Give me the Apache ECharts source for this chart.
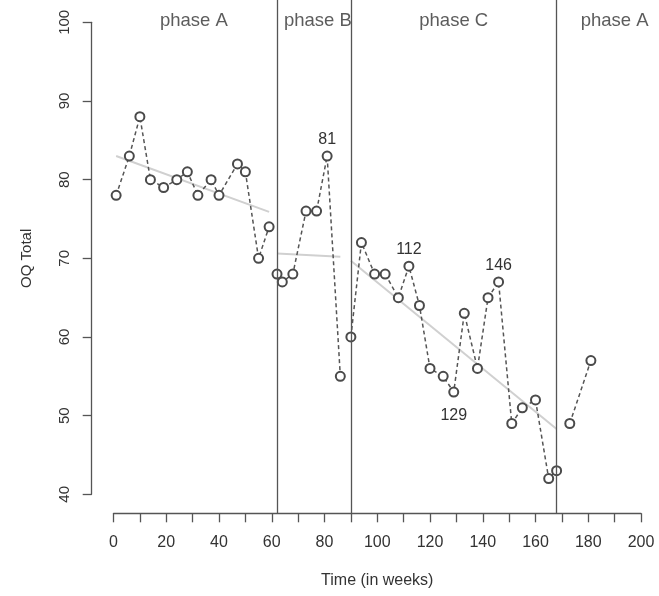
<!DOCTYPE html>
<html>
<head>
<meta charset="utf-8">
<script src="https://cdn.jsdelivr.net/npm/echarts@6/dist/echarts.min.js"></script>
<style>
  html, body { margin: 0; padding: 0; background: #fff; }
  #chart { width: 659px; height: 596px; }
</style>
</head>
<body>
<div id="chart"></div>
<script>
// weeks / OQ totals, one pair of arrays per phase
const weeksA1 = [1, 6, 10, 14, 19, 24, 28, 32, 37, 40, 47, 50, 55, 59];
const oqA1 = [78, 83, 88, 80, 79, 80, 81, 78, 80, 78, 82, 81, 70, 74];
const weeksB = [62, 64, 68, 73, 77, 81, 86];
const oqB = [68, 67, 68, 76, 76, 83, 55];
const weeksC = [90, 94, 99, 103, 108, 112, 116, 120, 125, 129, 133, 138, 142, 146, 151, 155, 160, 165, 168];
const oqC = [60, 72, 68, 68, 65, 69, 64, 56, 55, 53, 63, 56, 65, 67, 49, 51, 52, 42, 43];
const weeksA2 = [173, 181];
const oqA2 = [49, 57];

// trend line per phase: [start, end]
const trendA1 = [[1, 83.0], [59, 75.9]];
const trendB = [[62, 70.6], [86, 70.2]];
const trendC = [[90, 69.7], [168, 48.3]];

const phaseBreaks = [62, 90, 168];
const phaseNames = ["phase A", "phase B", "phase C", "phase A"];
const phaseLabelWeeks = [30.5, 77.5, 129, 190];

// points that carry their week number as a label
const labelledWeeks = [81, 112, 129, 146];
const labelsBelow = [129];

const font = "Liberation Sans, Arial, sans-serif";

function points(weeks, vals) {
  return weeks.map((w, i) => {
    const item = { value: [w, vals[i]] };
    if (labelledWeeks.includes(w)) {
      const below = labelsBelow.includes(w);
      item.label = {
        show: true,
        position: below ? "bottom" : "top",
        distance: below ? 10 : 3,
        formatter: String(w),
      };
    }
    return item;
  });
}

function phaseSeries(weeks, vals) {
  return {
    type: "line",
    xAxisIndex: 0,
    yAxisIndex: 0,
    data: points(weeks, vals),
    symbol: "emptyCircle",
    symbolSize: 9,
    itemStyle: { color: "#4a4a4a", borderColor: "#4a4a4a", borderWidth: 1.2 },
    lineStyle: { color: "#555", width: 1.5, type: [4, 3] },
    label: { color: "#333", fontSize: 16, fontFamily: font },
    z: 3,
  };
}

function trendSeries(seg) {
  return {
    type: "line",
    xAxisIndex: 0,
    yAxisIndex: 0,
    data: seg,
    symbol: "none",
    lineStyle: { color: "#d0d0d0", width: 2 },
    z: 1,
  };
}

const myChart = echarts.init(document.getElementById("chart"));

const axisLine = { show: true, lineStyle: { color: "#555", width: 1.3 } };
const axisTick = { show: true, length: 9, lineStyle: { color: "#555", width: 1.3 } };

const option = {
  animation: false,
  grid: [
    // data area
    { left: 113.5, right: 18, top: 22.3, bottom: 101.7, outerBoundsMode: "none" },
    // phase lines + x axis
    { left: 113.5, right: 18, top: 0, bottom: 82.7, outerBoundsMode: "none" },
    // y axis, detached to the left
    { left: 91.7, right: 18, top: 22.3, bottom: 101.7, outerBoundsMode: "none" },
  ],
  xAxis: [
    { gridIndex: 0, type: "value", min: 0, max: 200, show: false },
    {
      gridIndex: 1,
      type: "value",
      min: 0,
      max: 200,
      interval: 10,
      name: "Time (in weeks)",
      nameLocation: "middle",
      nameGap: 67,
      nameTextStyle: { color: "#333", fontSize: 16, fontFamily: font, verticalAlign: "middle" },
      axisLine: axisLine,
      axisTick: axisTick,
      axisLabel: {
        color: "#333",
        fontSize: 16,
        fontFamily: font,
        margin: 21,
        formatter: (v) => (v % 20 === 0 ? String(v) : ""),
      },
      splitLine: { show: false },
    },
    { gridIndex: 2, type: "value", min: 0, max: 1, show: false },
  ],
  yAxis: [
    { gridIndex: 0, type: "value", min: 40, max: 100, show: false },
    { gridIndex: 1, type: "value", min: 0, max: 100, show: false },
    {
      gridIndex: 2,
      type: "value",
      min: 40,
      max: 100,
      interval: 10,
      name: "OQ Total",
      nameLocation: "middle",
      nameRotate: 90,
      nameGap: 65,
      nameTextStyle: { color: "#333", fontSize: 15, fontFamily: font, verticalAlign: "middle" },
      axisLine: axisLine,
      axisTick: axisTick,
      axisLabel: { color: "#333", fontSize: 15, fontFamily: font, rotate: 90, margin: 19 },
      splitLine: { show: false },
    },
  ],
  series: [
    trendSeries(trendA1),
    trendSeries(trendB),
    trendSeries(trendC),
    phaseSeries(weeksA1, oqA1),
    phaseSeries(weeksB, oqB),
    phaseSeries(weeksC, oqC),
    phaseSeries(weeksA2, oqA2),
    {
      // phase names + phase boundary lines
      type: "scatter",
      xAxisIndex: 1,
      yAxisIndex: 1,
      symbolSize: 0,
      clip: false,
      data: phaseLabelWeeks.map((w, i) => ({ value: [w, 96], name: phaseNames[i] })),
      label: {
        show: true,
        position: "inside",
        formatter: "{b}",
        color: "#333",
        fontSize: 18.5,
        fontFamily: font,
      },
      markLine: {
        silent: true,
        symbol: "none",
        label: { show: false },
        lineStyle: { color: "#555", width: 1.3, type: "solid" },
        data: phaseBreaks.map((x) => ({ xAxis: x })),
      },
      z: 2,
    },
  ],
};

myChart.setOption(option);
</script>
</body>
</html>
